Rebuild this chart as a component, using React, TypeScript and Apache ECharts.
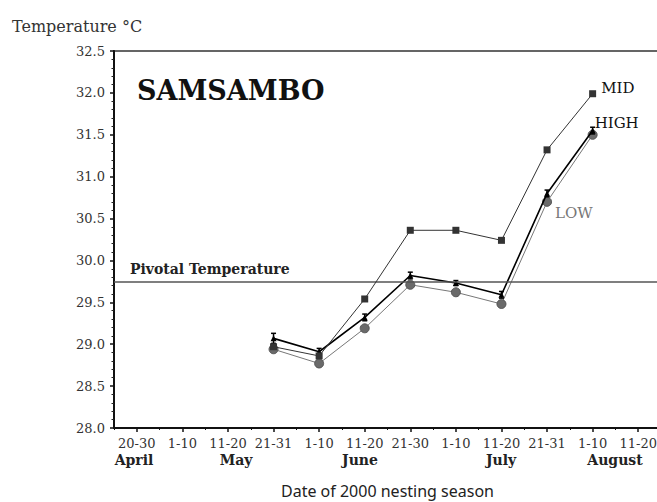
import React, { useEffect, useRef } from "react";
import * as echarts from "echarts";

const categories = ["20-30", "1-10", "11-20", "21-31", "1-10", "11-20", "21-30", "1-10", "11-20", "21-31", "1-10", "11-20"];
const monthLabels = ["April", "May", "June", "July", "August"];
const midValues = [null, null, null, 28.97, 28.86, 29.54, 30.36, 30.36, 30.24, 31.32, 31.99, null];
const highValues = [null, null, null, 29.07, 28.91, 29.32, 29.82, 29.73, 29.59, 30.8, 31.55, null];
const lowValues = [null, null, null, 28.94, 28.77, 29.19, 29.71, 29.62, 29.48, 30.7, 31.5, null];
const highErrors = [0, 0, 0, 0.06, 0.04, 0.04, 0.04, 0.03, 0.04, 0.04, 0.04, 0];
const pivotalTemperature = 29.75;
const yTicks = { min: 28.0, max: 32.5, step: 0.5 };

const SERIF = "'DejaVu Serif', serif";

export default function App() {
  const ref = useRef<HTMLDivElement>(null);
  useEffect(() => {
    if (!ref.current) return;
    const chart = echarts.init(ref.current, null, { renderer: "svg" });
    const monthX = [134, 236, 360, 501, 615];
    const option: any = {
      animation: false,
      backgroundColor: "#fff",
      grid: {
        left: 114,
        right: -4,
        top: 51,
        bottom: 74,
        outerBoundsMode: "none",
        containLabel: false,
        show: true,
        borderColor: "#333",
        borderWidth: 1.5,
        backgroundColor: "transparent",
      },
      xAxis: [
        {
          type: "category",
          data: categories,
          position: "bottom",
          boundaryGap: true,
          axisLine: { show: true, lineStyle: { color: "#111", width: 2 } },
          axisTick: { show: true, alignWithLabel: true, length: 4, lineStyle: { color: "#111", width: 1.5 } },
          axisLabel: { show: true, interval: 0, margin: 9, fontFamily: SERIF, fontSize: 13, color: "#333" },
          splitLine: { show: false },
          name: "Date of 2000 nesting season",
          nameLocation: "middle",
          nameGap: 55,
          nameTextStyle: { fontFamily: "'Noto Sans', sans-serif", fontSize: 16, color: "#222" },
        },
        {
          type: "category",
          data: categories,
          position: "bottom",
          boundaryGap: true,
          axisLine: { show: false },
          axisTick: { show: true, length: 2, lineStyle: { color: "#111", width: 1 } },
          axisLabel: { show: false },
          splitLine: { show: false },
        },
      ],
      yAxis: {
        type: "value",
        min: yTicks.min,
        max: yTicks.max,
        interval: yTicks.step,
        axisLine: { show: true, lineStyle: { color: "#111", width: 2 } },
        axisTick: { show: true, length: 4, lineStyle: { color: "#111", width: 1.5 } },
        minorTick: { show: true, splitNumber: 5, length: 2.5, lineStyle: { color: "#222", width: 1 } },
        axisLabel: {
          margin: 9,
          fontFamily: SERIF,
          fontSize: 13,
          color: "#333",
          formatter: (v: number) => v.toFixed(1),
        },
        splitLine: { show: false },
      },
      graphic: [
        {
          type: "text",
          left: 12,
          top: 18,
          style: { text: "Temperature °C", font: `16px ${SERIF}`, fill: "#333" },
        },
        {
          type: "text",
          left: 137,
          top: 77,
          style: { text: "SAMSAMBO", font: `bold 27px ${SERIF}`, fill: "#111" },
        },
        {
          type: "text",
          left: 130,
          top: 262,
          style: { text: "Pivotal Temperature", font: `bold 14px ${SERIF}`, fill: "#222" },
        },
        ...monthLabels.map((m, i) => ({
          type: "text",
          x: monthX[i],
          y: 460,
          style: {
            text: m,
            font: `bold 14px ${SERIF}`,
            fill: "#222",
            align: "center",
            verticalAlign: "middle",
          },
        })),
      ],
      series: [
        {
          name: "LOW",
          type: "line",
          data: lowValues.map((v, i) =>
            i === 9
              ? {
                  value: v,
                  label: {
                    show: true,
                    formatter: "LOW",
                    position: "right",
                    distance: 3,
                    offset: [0, 11],
                    fontFamily: SERIF,
                    fontSize: 15,
                    color: "#777",
                  },
                }
              : v
          ),
          symbol: "circle",
          symbolSize: 9,
          itemStyle: { color: "#6a6a6a", borderColor: "#555", borderWidth: 1 },
          lineStyle: { color: "#777", width: 1 },
          connectNulls: false,
          z: 3,
          markLine: {
            silent: true,
            symbol: "none",
            label: { show: false },
            lineStyle: { color: "#555", width: 1.5, type: "solid" },
            data: [{ yAxis: pivotalTemperature }],
          },
        },
        {
          name: "HIGH",
          type: "line",
          data: highValues.map((v, i) =>
            i === 10
              ? {
                  value: v,
                  label: {
                    show: true,
                    formatter: "HIGH",
                    position: "right",
                    distance: 0,
                    offset: [-1, -8],
                    fontFamily: SERIF,
                    fontSize: 15,
                    color: "#111",
                  },
                }
              : v
          ),
          symbol: "triangle",
          symbolSize: 6,
          itemStyle: { color: "#000" },
          lineStyle: { color: "#000", width: 1.6 },
          z: 4,
        },
        {
          name: "HIGH errors",
          type: "custom",
          z: 4,
          data: highValues
            .map((v, i) => (v == null ? null : [i, v, highErrors[i]]))
            .filter((d) => d !== null),
          renderItem: (params: any, api: any) => {
            const x = api.value(0);
            const v = api.value(1);
            const e = api.value(2);
            const top = api.coord([x, v + e]);
            const bot = api.coord([x, v - e]);
            const cap = 2.5;
            const style = { stroke: "#000", lineWidth: 1.5 };
            return {
              type: "group",
              children: [
                { type: "line", shape: { x1: top[0], y1: top[1], x2: bot[0], y2: bot[1] }, style },
                { type: "line", shape: { x1: top[0] - cap, y1: top[1], x2: top[0] + cap, y2: top[1] }, style },
                { type: "line", shape: { x1: bot[0] - cap, y1: bot[1], x2: bot[0] + cap, y2: bot[1] }, style },
              ],
            };
          },
        },
        {
          name: "MID",
          type: "line",
          data: midValues.map((v, i) =>
            i === 10
              ? {
                  value: v,
                  label: {
                    show: true,
                    formatter: "MID",
                    position: "right",
                    distance: 5,
                    offset: [0, -6],
                    fontFamily: SERIF,
                    fontSize: 15,
                    color: "#111",
                  },
                }
              : v
          ),
          symbol: "rect",
          symbolSize: 7,
          itemStyle: { color: "#333" },
          lineStyle: { color: "#333", width: 1 },
          z: 5,
        },
      ],
    };
    chart.setOption(option);
    return () => chart.dispose();
  }, []);
  return (
    <div
      ref={ref}
      style={{ position: "absolute", left: 0, top: 0, width: 657, height: 502, background: "#fff" }}
    />
  );
}
